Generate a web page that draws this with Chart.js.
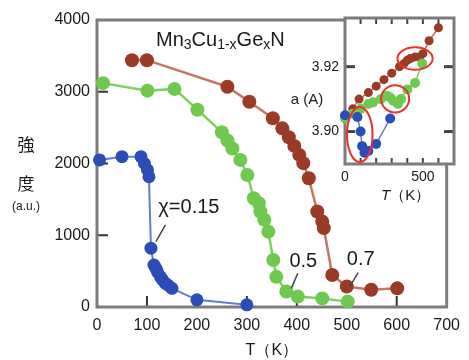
<!DOCTYPE html>
<html>
<head>
<meta charset="utf-8">
<script src="https://cdn.jsdelivr.net/npm/chart.js"></script>
<style>
  body { margin: 0; background: #fff; }
  #wrap { position: relative; width: 469px; height: 360px; }
  #main { position: absolute; left: 0; top: 0; }
  #inset { position: absolute; left: 300px; top: 0; }
</style>
</head>
<body>
<div id="wrap">
  <canvas id="main" width="469" height="360" style="width:469px;height:360px"></canvas>
  <canvas id="inset" width="169" height="205" style="width:169px;height:205px"></canvas>
</div>
<script>
// main panel: intensity vs temperature
var blueT  = [5, 50, 88, 95, 101, 104, 108, 114, 118, 121, 127, 131, 137, 143, 150, 200, 300];
var blueI  = [2050, 2095, 2095, 2000, 1910, 1815, 820, 585, 540, 490, 420, 380, 330, 300, 260, 100, 30];
var greenT = [12, 101, 155, 201, 250, 261, 271, 287, 301, 314, 324, 327, 335, 343, 353, 359, 379, 402, 451, 502];
var greenI = [3120, 3015, 3040, 2750, 2435, 2320, 2210, 2050, 1840, 1515, 1445, 1330, 1215, 1050, 655, 420, 215, 145, 120, 75];
var redT   = [70, 100, 261, 305, 352, 371, 384, 395, 405, 413, 424, 441, 451, 454, 471, 500, 549, 601];
var redI   = [3440, 3440, 3070, 2860, 2630, 2490, 2365, 2245, 2120, 2005, 1795, 1330, 1190, 1100, 445, 285, 240, 260];

// inset: lattice constant a vs T
var insetBlueT  = [0, 80, 100, 110, 125, 150, 200, 290];
var insetBlueA  = [3.905, 3.9045, 3.900, 3.8955, 3.8935, 3.894, 3.8962, 3.904];
var insetGreenT = [0, 50, 100, 150, 180, 230, 270, 290, 310, 340, 360, 400, 450, 496];
var insetGreenA = [3.904, 3.9055, 3.907, 3.9085, 3.909, 3.910, 3.911, 3.9105, 3.9095, 3.9085, 3.910, 3.913, 3.915, 3.921];
var insetRedT   = [50, 90, 150, 200, 250, 300, 350, 380, 400, 420, 450, 480, 500, 540, 600];
var insetRedA   = [3.907, 3.910, 3.912, 3.914, 3.916, 3.918, 3.920, 3.921, 3.922, 3.9225, 3.923, 3.923, 3.924, 3.928, 3.932];
var insetYTicks = [3.90, 3.92];

var FONT = "'Liberation Sans', Arial, sans-serif";
var CJK = "'Noto Sans CJK JP', sans-serif";

function pts(xs, ys) {
  return xs.map(function(x, i) { return {x: x, y: ys[i]}; });
}

function series(xs, ys, line, dot, lw, r) {
  return {
    data: pts(xs, ys), showLine: true, borderColor: line, borderWidth: lw,
    pointRadius: r, pointBackgroundColor: dot, pointBorderWidth: 0,
    pointHoverRadius: r, clip: false
  };
}

var mainDecor = {
  id: 'mainDecor',
  beforeDatasetsDraw: function(chart) {
    var ctx = chart.ctx, a = chart.chartArea;
    var xs = chart.scales.x, ys = chart.scales.y;
    ctx.save();
    ctx.strokeStyle = '#333';
    ctx.lineWidth = 2;
    xs.ticks.forEach(function(t) {
      if (t.value <= xs.min || t.value >= xs.max) return;
      var px = xs.getPixelForValue(t.value);
      ctx.beginPath(); ctx.moveTo(px, a.bottom); ctx.lineTo(px, a.bottom - 11); ctx.stroke();
    });
    ys.ticks.forEach(function(t) {
      if (t.value <= ys.min || t.value >= ys.max) return;
      var py = ys.getPixelForValue(t.value);
      ctx.beginPath(); ctx.moveTo(a.left, py); ctx.lineTo(a.left + 11, py); ctx.stroke();
    });
    ctx.strokeStyle = '#7c7c7c';
    ctx.lineWidth = 3;
    ctx.strokeRect(a.left, a.top, a.right - a.left, a.bottom - a.top);
    ctx.restore();
  },
  afterDraw: function(chart) {
    var ctx = chart.ctx;
    var xs = chart.scales.x, ys = chart.scales.y;
    ctx.save();
    ctx.fillStyle = '#1a1a1a';

    // formula
    var parts = [['Mn', 0], ['3', 1], ['Cu', 0], ['1-x', 1], ['Ge', 0], ['x', 1], ['N', 0]];
    var cx = 156;
    ctx.textBaseline = 'alphabetic';
    ctx.textAlign = 'left';
    parts.forEach(function(p) {
      ctx.font = (p[1] ? '14px ' : '20px ') + FONT;
      ctx.fillText(p[0], cx, p[1] ? 49 : 46);
      cx += ctx.measureText(p[0]).width;
    });

    // series labels with leader lines
    ctx.font = '20px ' + FONT;
    ctx.textAlign = 'center';
    ctx.fillText('χ=0.15', xs.getPixelForValue(184), ys.getPixelForValue(1310));
    ctx.fillText('0.5', xs.getPixelForValue(413), ys.getPixelForValue(560));
    ctx.fillText('0.7', xs.getPixelForValue(528), ys.getPixelForValue(585));
    ctx.strokeStyle = '#444';
    ctx.lineWidth = 1.5;
    [[137, 1143, 118, 910], [402, 470, 389, 260], [523, 478, 506, 283]].forEach(function(l) {
      ctx.beginPath();
      ctx.moveTo(xs.getPixelForValue(l[0]), ys.getPixelForValue(l[1]));
      ctx.lineTo(xs.getPixelForValue(l[2]), ys.getPixelForValue(l[3]));
      ctx.stroke();
    });

    // y axis title
    ctx.font = '17px ' + CJK;
    ctx.textBaseline = 'middle';
    ctx.fillText('強', 26, 145);
    ctx.fillText('度', 26, 184);
    ctx.font = '12px ' + FONT;
    ctx.fillText('(a.u.)', 26, 207);

    // inset y title
    ctx.font = '15px ' + FONT;
    ctx.fillText('a (A)', 307, 100);
    ctx.restore();
  }
};

new Chart(document.getElementById('main'), {
  type: 'scatter',
  data: {
    datasets: [
      series(blueT, blueI, 'rgba(80,110,210,0.9)', '#2c4db6', 2, 6.5),
      series(greenT, greenI, 'rgba(120,205,90,0.95)', '#70c94f', 2.5, 7),
      series(redT, redI, 'rgba(185,95,75,0.85)', '#9b3a26', 2.5, 7)
    ]
  },
  options: {
    responsive: false,
    animation: false,
    layout: { padding: { top: 20, right: 15, left: 0, bottom: 0 } },
    plugins: { legend: { display: false }, tooltip: { enabled: false } },
    scales: {
      x: {
        type: 'linear', min: 0, max: 700,
        ticks: {
          stepSize: 100, color: '#1a1a1a', font: { size: 16, family: FONT }, padding: 9, maxRotation: 0,
          callback: function(v) { return String(v); }
        },
        grid: { display: false, drawTicks: false },
        border: { display: false },
        title: { display: true, text: 'T（K）', color: '#1a1a1a', font: { size: 16, family: FONT }, padding: { top: 0, bottom: 0 } },
        afterFit: function(s) { s.height = 53; }
      },
      y: {
        min: 0, max: 4000,
        ticks: {
          stepSize: 1000, color: '#1a1a1a', font: { size: 16, family: FONT }, padding: 7,
          callback: function(v) { return String(v); }
        },
        grid: { display: false, drawTicks: false },
        border: { display: false },
        afterFit: function(s) { s.width = 97; }
      }
    }
  },
  plugins: [mainDecor]
});

var rings = [
  { t: 95, a: 3.8991, rt: 82, ra: 0.0085 },
  { t: 322, a: 3.9101, rt: 90, ra: 0.0042 },
  { t: 450, a: 3.9225, rt: 113, ra: 0.00345 }
];

var insetDecor = {
  id: 'insetDecor',
  beforeDraw: function(chart) {
    var ctx = chart.ctx, a = chart.chartArea;
    ctx.save();
    ctx.fillStyle = '#fff';
    ctx.fillRect(a.left, a.top, a.right - a.left, a.bottom - a.top);
    ctx.restore();
  },
  beforeDatasetsDraw: function(chart) {
    var ctx = chart.ctx, a = chart.chartArea;
    var xs = chart.scales.x, ys = chart.scales.y;
    ctx.save();
    ctx.strokeStyle = '#444';
    ctx.lineWidth = 2;
    xs.ticks.forEach(function(t) {
      if (t.value <= xs.min || t.value >= xs.max) return;
      var px = xs.getPixelForValue(t.value);
      ctx.beginPath(); ctx.moveTo(px, a.top); ctx.lineTo(px, a.top + 6); ctx.stroke();
      ctx.beginPath(); ctx.moveTo(px, a.bottom); ctx.lineTo(px, a.bottom - 6); ctx.stroke();
    });
    ctx.lineWidth = 3;
    insetYTicks.forEach(function(v) {
      var py = ys.getPixelForValue(v);
      ctx.beginPath(); ctx.moveTo(a.left, py); ctx.lineTo(a.left + 10, py); ctx.stroke();
      ctx.beginPath(); ctx.moveTo(a.right, py); ctx.lineTo(a.right - 10, py); ctx.stroke();
    });
    ctx.strokeStyle = '#7c7c7c';
    ctx.lineWidth = 3;
    ctx.strokeRect(a.left, a.top, a.right - a.left, a.bottom - a.top);
    ctx.restore();
  },
  afterDraw: function(chart) {
    var ctx = chart.ctx;
    var xs = chart.scales.x, ys = chart.scales.y;
    ctx.save();
    ctx.strokeStyle = '#e8322b';
    ctx.lineWidth = 2;
    rings.forEach(function(r) {
      var cx = xs.getPixelForValue(r.t), cy = ys.getPixelForValue(r.a);
      var rx = Math.abs(xs.getPixelForValue(r.t + r.rt) - cx);
      var ry = Math.abs(ys.getPixelForValue(r.a + r.ra) - cy);
      ctx.beginPath();
      ctx.ellipse(cx, cy, rx, ry, 0, 0, Math.PI * 2);
      ctx.stroke();
    });
    // italic T axis title
    ctx.fillStyle = '#1a1a1a';
    ctx.textBaseline = 'alphabetic';
    ctx.textAlign = 'left';
    ctx.font = 'italic 15px ' + FONT;
    var x0 = 81;
    ctx.fillText('T', x0, 200);
    var w = ctx.measureText('T').width;
    ctx.font = '15px ' + FONT;
    ctx.fillText('（K）', x0 + w, 200);
    ctx.restore();
  }
};

new Chart(document.getElementById('inset'), {
  type: 'scatter',
  data: {
    datasets: [
      series(insetBlueT, insetBlueA, 'rgba(80,110,210,0.9)', '#2c4db6', 1.5, 5),
      series(insetGreenT, insetGreenA, 'rgba(120,205,90,0.95)', '#70c94f', 1.5, 5),
      series(insetRedT, insetRedA, 'rgba(185,95,75,0.85)', '#9b3a26', 1.5, 4.5)
    ]
  },
  options: {
    responsive: false,
    animation: false,
    layout: { padding: { top: 18, right: 15, left: 0, bottom: 0 } },
    plugins: { legend: { display: false }, tooltip: { enabled: false } },
    scales: {
      x: {
        type: 'linear', min: 0, max: 700,
        ticks: {
          stepSize: 100, autoSkip: false, maxRotation: 0, padding: 5,
          color: '#1a1a1a', font: { size: 14, family: FONT },
          callback: function(v) { return (v === 0 || v === 500) ? String(v) : ''; }
        },
        grid: { display: false, drawTicks: false },
        border: { display: false },
        afterFit: function(s) { s.height = 41; }
      },
      y: {
        min: 3.89, max: 3.935,
        afterBuildTicks: function(s) { s.ticks = insetYTicks.map(function(v) { return { value: v }; }); },
        ticks: {
          padding: 6, color: '#1a1a1a', font: { size: 14, family: FONT },
          callback: function(v) { return v.toFixed(2); }
        },
        grid: { display: false, drawTicks: false },
        border: { display: false },
        afterFit: function(s) { s.width = 45; }
      }
    }
  },
  plugins: [insetDecor]
});
</script>
</body>
</html>
